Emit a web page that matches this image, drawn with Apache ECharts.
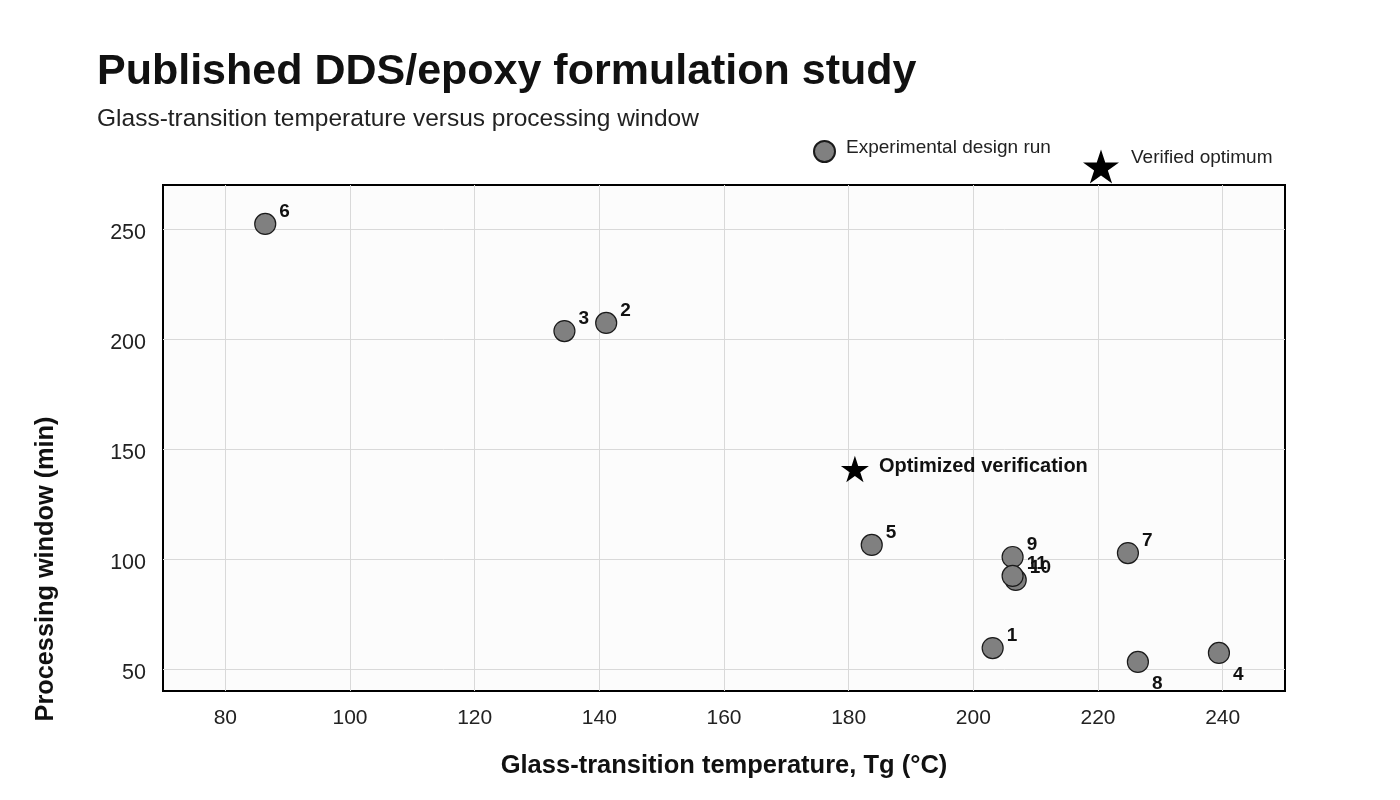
<!DOCTYPE html>
<html>
<head>
<meta charset="utf-8">
<title>Published DDS/epoxy formulation study</title>
<script src="https://cdn.jsdelivr.net/npm/echarts@6/dist/echarts.min.js"></script>
<style>
  html, body { margin: 0; padding: 0; background: #fff; }
  #chart { width: 1400px; height: 800px; }
</style>
</head>
<body>
<div id="chart"></div>
<script>
// experimental design runs
var runIds = ['1', '2', '3', '4', '5', '6', '7', '8', '9', '10', '11'];
var runTg = [203.1, 141.1, 134.4, 239.4, 183.7, 86.4, 224.8, 226.4, 206.3, 206.8, 206.3];
var runWindow = [59.5, 207.3, 203.6, 57.3, 106.4, 252.3, 102.7, 53.2, 100.9, 90.5, 92.3];

// optimized verification run
var optName = 'Optimized verification';
var optTg = [181.0];
var optWindow = [140.9];

var xTicks = [80, 100, 120, 140, 160, 180, 200, 220, 240];
var yTicks = [50, 100, 150, 200, 250];

var STAR = 'path://M50 0 L61.23 34.55 L97.55 34.55 L68.16 55.9 L79.39 90.45 L50 69.1 L20.61 90.45 L31.84 55.9 L2.45 34.55 L38.77 34.55 Z';
var FONT = '"Liberation Sans", Arial, sans-serif';

var belowLabel = ['8', '4'];
var runData = runIds.map(function (id, i) {
  var d = { name: id, value: [runTg[i], runWindow[i]] };
  if (belowLabel.indexOf(id) >= 0) d.label = { offset: [0, 22] };
  return d;
});
var optData = optTg.map(function (t, i) {
  return { name: optName, value: [t, optWindow[i]] };
});

var chart = echarts.init(document.getElementById('chart'));
chart.setOption({
  backgroundColor: '#ffffff',
  textStyle: { fontFamily: FONT },
  title: [
    { text: 'Published DDS/epoxy formulation study', left: 92, top: 46,
      textStyle: { fontSize: 43, fontWeight: 'bold', color: '#111', fontFamily: FONT } },
    { text: 'Glass-transition temperature versus processing window', left: 92, top: 101.5,
      textStyle: { fontSize: 24.5, fontWeight: 'normal', color: '#222', fontFamily: FONT } }
  ],
  legend: [
    { data: [{ name: 'Experimental design run', icon: 'circle' }], left: 808, top: 133,
      itemWidth: 21, itemHeight: 21, selectedMode: false,
      formatter: '{t|{name}}',
      textStyle: { fontSize: 19, color: '#222',
        rich: { t: { fontSize: 19, color: '#222', padding: [0, 0, 8, 6] } } } },
    { data: [{ name: 'Verified optimum', icon: STAR }], left: 1078, top: 143,
      itemWidth: 36, itemHeight: 36, selectedMode: false,
      formatter: '{t|{name}}',
      textStyle: { fontSize: 19, color: '#222',
        rich: { t: { fontSize: 19, color: '#222', padding: [0, 0, 18, 7] } } } }
  ],
  grid: {
    left: 163, right: 115, top: 185, bottom: 109,
    show: true, backgroundColor: '#fcfcfc', borderColor: '#000', borderWidth: 2
  },
  xAxis: {
    type: 'value', min: 70, max: 250,
    name: 'Glass-transition temperature, Tg (°C)',
    nameLocation: 'middle', nameGap: 62,
    nameTextStyle: { fontSize: 25.5, fontWeight: 'bold', color: '#111' },
    axisLine: { show: false },
    axisTick: { show: false, customValues: xTicks },
    axisLabel: { customValues: xTicks, fontSize: 21, color: '#222', margin: 17 },
    splitLine: { show: true, lineStyle: { color: '#d9d9d9', width: 1 } }
  },
  yAxis: {
    type: 'value', min: 40, max: 270,
    name: 'Processing window (min)',
    nameLocation: 'middle', nameGap: 104, nameRotate: 90,
    nameTextStyle: { fontSize: 25.3, fontWeight: 'bold', color: '#111', padding: [0, 262, 0, 0] },
    axisLine: { show: false },
    axisTick: { show: false, customValues: yTicks },
    axisLabel: {
      customValues: yTicks, margin: 17,
      formatter: '{v|{value}}',
      rich: { v: { fontSize: 21.5, color: '#222', padding: [8, 0, 0, 0] } }
    },
    splitLine: { show: true, lineStyle: { color: '#d9d9d9', width: 1 } }
  },
  series: [
    {
      name: 'Experimental design run',
      type: 'scatter',
      symbol: 'circle',
      symbolSize: 21,
      itemStyle: { color: '#808080', borderColor: '#1a1a1a', borderWidth: 1.2, opacity: 1 },
      label: {
        show: true, position: 'right', distance: 3, offset: [0, -12],
        formatter: '{b}', fontSize: 19, fontWeight: 'bold', color: '#111'
      },
      data: runData
    },
    {
      name: 'Verified optimum',
      type: 'scatter',
      symbol: STAR,
      symbolSize: 28,
      symbolKeepAspect: true,
      itemStyle: { color: '#000', opacity: 1 },
      label: {
        show: true, position: 'right', distance: 10, offset: [0, -3],
        formatter: '{b}', fontSize: 20, fontWeight: 'bold', color: '#111'
      },
      data: optData
    }
  ]
});
</script>
</body>
</html>
